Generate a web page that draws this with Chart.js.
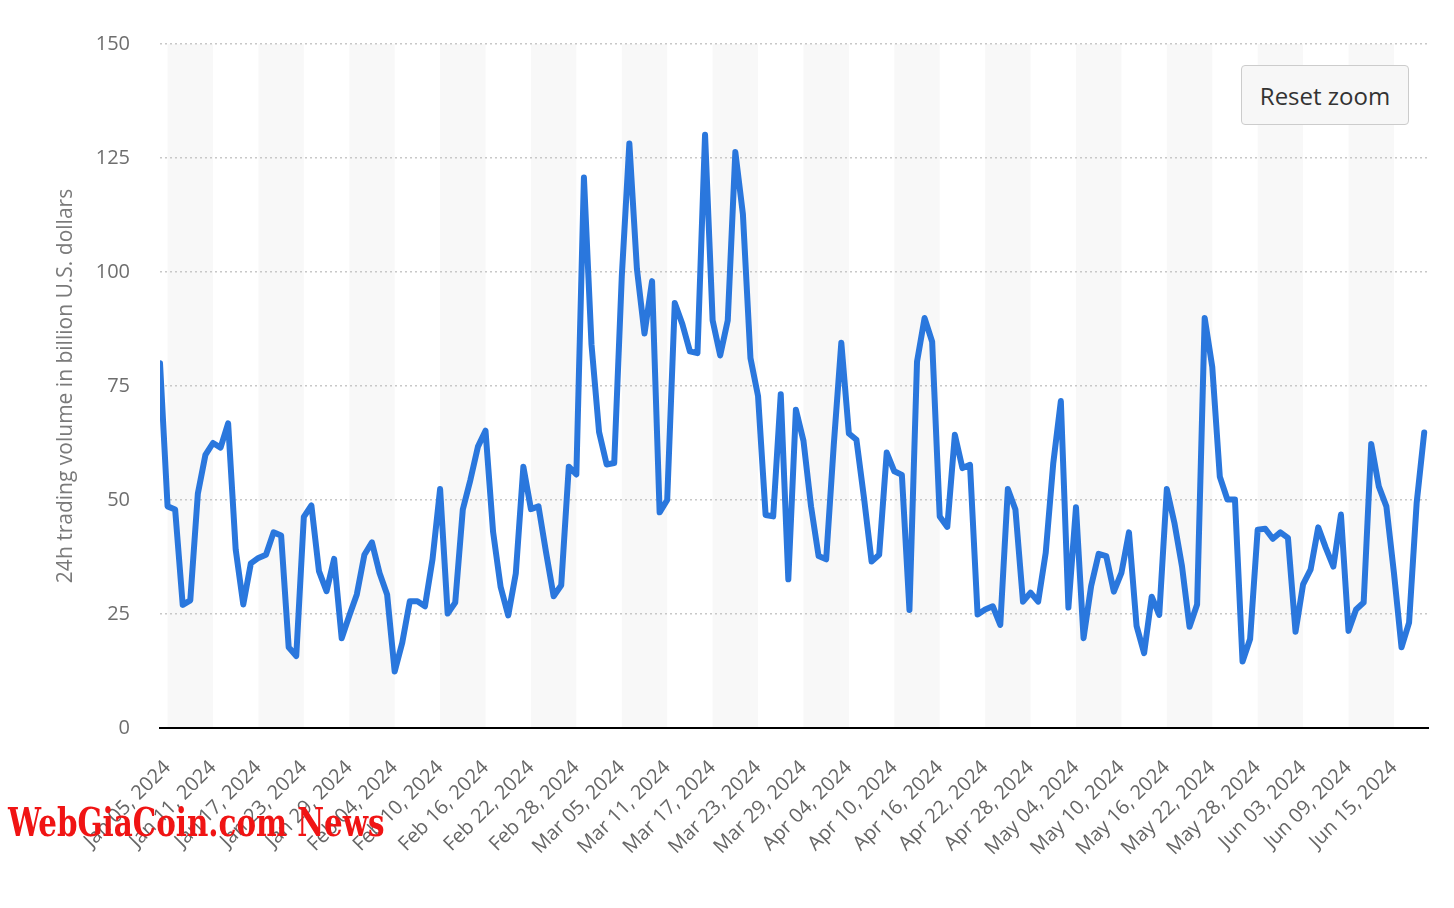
<!DOCTYPE html>
<html>
<head>
<meta charset="utf-8">
<script src="https://cdn.jsdelivr.net/npm/chart.js@4.4.1/dist/chart.umd.min.js"></script>
<style>
  html, body { margin: 0; padding: 0; background: #fff; }
  #wrap { position: relative; width: 1454px; height: 908px; overflow: hidden; }
  #reset {
    position: absolute; left: 1241px; top: 65px; width: 168px; height: 60px;
    box-sizing: border-box; background: #f7f7f7; border: 1px solid #cccccc; border-radius: 4px;
    font: 24px "Open Sans", sans-serif; color: #333; display: flex; align-items: center; justify-content: center;
  }
  #mark {
    position: absolute; left: 8px; top: 798px; white-space: nowrap; transform-origin: left top;
    font: bold 40px "DejaVu Serif Condensed", "DejaVu Serif", serif; color: #f01414;
  }
</style>
</head>
<body>
<div id="wrap">
  <canvas id="myChart" width="1454" height="908"></canvas>
  <div id="reset">Reset zoom</div>
  <div id="mark">WebGiaCoin.com News</div>
</div>
<script>
// daily 24h trading volume, billion USD, Jan 04 2024 .. Jun 19 2024
const volumes = [
  80, 48.6, 47.9, 27, 28, 51.4, 59.9, 62.5, 61.5, 66.8,
  39.1, 27.1, 36.1, 37.3, 38, 42.9, 42.2, 17.7, 15.8, 46.3,
  48.8, 34.4, 30, 37.1, 19.7, 24.6, 29.3, 38, 40.7, 34,
  29.3, 12.4, 18.7, 27.8, 27.8, 26.7, 37, 52.4, 25.1, 27.5,
  47.9, 54.4, 61.7, 65.2, 43, 30.9, 24.7, 33.9, 57.3, 48,
  48.6, 38.5, 28.9, 31.3, 57.3, 55.6, 120.7, 84.1, 64.9, 57.8,
  58.1, 99, 128.2, 100.7, 86.5, 98, 47.3, 50, 93.2, 88.6,
  82.6, 82.2, 130.1, 89.4, 81.7, 89.4, 126.3, 112.7, 81.1, 72.8,
  46.7, 46.4, 73.2, 32.6, 69.8, 63, 48.6, 37.7, 37, 62,
  84.5, 64.6, 63.2, 50.4, 36.5, 38, 60.4, 56.3, 55.5, 25.9,
  80.3, 89.9, 84.7, 46.4, 44.1, 64.3, 57, 57.7, 24.9, 26,
  26.7, 22.6, 52.4, 47.9, 27.7, 29.7, 27.7, 38.4, 58.1, 71.7,
  26.4, 48.4, 19.7, 31.1, 38.2, 37.7, 29.9, 34, 42.9, 22.4,
  16.4, 28.8, 24.8, 52.4, 45, 35.5, 22.2, 27.1, 89.9, 79.2,
  55.1, 50.1, 50.1, 14.6, 19.5, 43.5, 43.7, 41.5, 42.9, 41.7,
  21.1, 31.5, 34.8, 44, 39.5, 35.4, 46.8, 21.3, 26, 27.5,
  62.3, 53, 48.6, 34, 17.7, 23.1, 49.3, 64.8
];

const tickLabels = [
  'Jan 05, 2024', 'Jan 11, 2024', 'Jan 17, 2024', 'Jan 23, 2024', 'Jan 29, 2024',
  'Feb 04, 2024', 'Feb 10, 2024', 'Feb 16, 2024', 'Feb 22, 2024', 'Feb 28, 2024',
  'Mar 05, 2024', 'Mar 11, 2024', 'Mar 17, 2024', 'Mar 23, 2024', 'Mar 29, 2024',
  'Apr 04, 2024', 'Apr 10, 2024', 'Apr 16, 2024', 'Apr 22, 2024', 'Apr 28, 2024',
  'May 04, 2024', 'May 10, 2024', 'May 16, 2024', 'May 22, 2024', 'May 28, 2024',
  'Jun 03, 2024', 'Jun 09, 2024', 'Jun 15, 2024'
];
const firstTick = 1;   // Jan 05 is the 2nd day of the series
const tickStep = 6;

const yTicks = [0, 25, 50, 75, 100, 125, 150];

// alternating column bands between x ticks
const bandsPlugin = {
  id: 'bands',
  beforeDraw(chart) {
    const { ctx, chartArea, scales } = chart;
    const xs = scales.x;
    ctx.save();
    ctx.fillStyle = '#f8f8f8';
    for (let k = 0; k < tickLabels.length; k += 2) {
      const a = xs.getPixelForValue(firstTick + k * tickStep);
      const b = xs.getPixelForValue(firstTick + (k + 1) * tickStep);
      const left = Math.max(a, chartArea.left);
      const right = Math.min(b, chartArea.right);
      if (right > left) ctx.fillRect(left, chartArea.top, right - left, chartArea.bottom - chartArea.top);
    }
    ctx.restore();
  }
};

const ctx = document.getElementById('myChart');
new Chart(ctx, {
  type: 'line',
  data: {
    datasets: [{
      data: volumes.map((v, i) => ({ x: i, y: v })),
      borderColor: '#2a77dd',
      borderWidth: 6,
      pointRadius: 0,
      tension: 0,
      borderJoinStyle: 'round',
      borderCapStyle: 'round',
      clip: 0
    }]
  },
  options: {
    responsive: false,
    animation: false,
    devicePixelRatio: 1,
    layout: { padding: { left: 0, right: 26, top: 44, bottom: 0 } },
    plugins: { legend: { display: false }, tooltip: { enabled: false } },
    scales: {
      x: {
        type: 'linear',
        min: 0,
        max: 167.5,
        afterBuildTicks: s => { s.ticks = tickLabels.map((_, k) => ({ value: firstTick + k * tickStep })); },
        afterFit: s => { s.height = 180; },
        ticks: {
          autoSkip: false,
          minRotation: 45,
          maxRotation: 45,
          padding: 28,
          color: '#666',
          font: { family: 'Open Sans', size: 20 },
          callback: v => tickLabels[Math.round((v - firstTick) / tickStep)]
        },
        grid: { display: false, drawTicks: false },
        border: { display: true, color: '#000', width: 2 }
      },
      y: {
        min: 0,
        max: 150,
        afterBuildTicks: s => { s.ticks = yTicks.map(v => ({ value: v })); },
        afterFit: s => { s.width = 160; },
        ticks: {
          padding: 30,
          color: '#6e6e6e',
          font: { family: 'Open Sans', size: 20 }
        },
        grid: { color: '#c8c8c8', lineWidth: 1.5, drawTicks: false },
        border: { display: false, dash: [2, 3] },
        title: {
          display: true,
          text: '24h trading volume in billion U.S. dollars',
          color: '#7a7a7a',
          font: { family: 'Open Sans', size: 21 },
          padding: { top: 53, bottom: 0 }
        }
      }
    }
  },
  plugins: [bandsPlugin]
});

// squeeze the watermark to the reference width
const mark = document.getElementById('mark');
mark.style.transform = 'scaleX(' + (377 / mark.offsetWidth) + ')';
</script>
</body>
</html>
